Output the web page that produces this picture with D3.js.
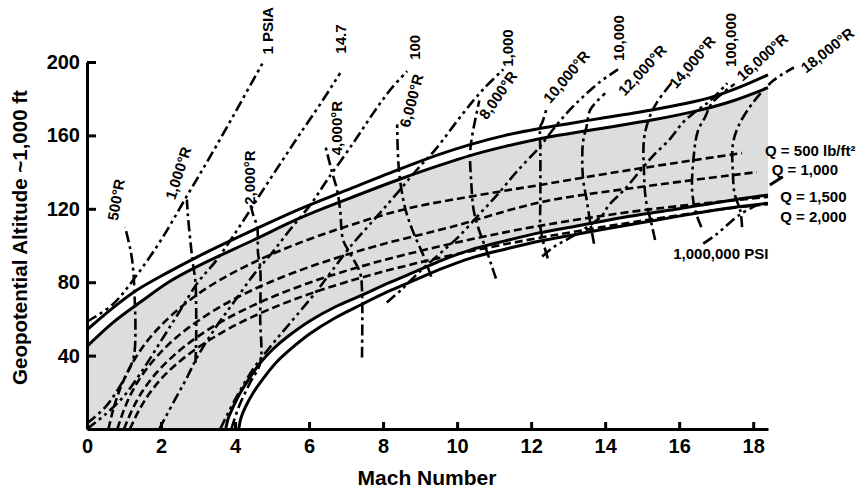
<!DOCTYPE html>
<html>
<head>
<meta charset="utf-8">
<script src="https://cdn.jsdelivr.net/npm/d3@7"></script>
<style>
  body { margin: 0; background: #fff; }
  svg { font-family: "Liberation Sans", Arial, sans-serif; font-weight: bold; }
</style>
</head>
<body>
<svg id="chart" width="857" height="491"></svg>
<script>
// axis ticks
const machTicks = [0, 2, 4, 6, 8, 10, 12, 14, 16, 18];
const altTicks = [40, 80, 120, 160, 200];

// corridor boundaries [mach, altitude kft]
const upperOuter = [[0,54],[0.7,66],[1.35,75.7],[2.2,85.5],[2.97,93.7],[4.5,108.5],[5.76,120],[7,130],[8.5,142],[9.5,149.5],[10.35,155],[11.3,160],[12.3,164],[13.8,169],[15.3,174],[16.2,177.5],[16.9,181],[17.6,186],[18.4,193]];
const upperInner = [[0,45],[0.7,58],[1.5,70],[2.2,80],[2.97,88.5],[4.5,103],[5.76,115],[7,125],[8.5,136.5],[9.5,143.5],[10.35,149],[11.3,154],[12.3,158.5],[13.8,163.5],[15.3,168.5],[16.5,173.5],[17.4,178.5],[18.4,186]];
const lowerInner = [[3.75,0],[3.82,6],[3.95,12],[4.15,20],[4.4,28],[4.7,36.5],[5.05,44],[5.4,50],[6.03,59],[6.7,66.5],[7.43,73],[8.2,80],[8.9,86],[9.6,92],[10.35,97.5],[11.3,102.5],[12.24,107],[13.2,110.5],[14,113.5],[15,117],[16,120],[17.2,124],[18.4,127.5]];
const lowerOuter = [[4.1,0],[4.16,6],[4.28,12],[4.5,20],[4.78,28],[5.1,36],[5.5,43.5],[6.03,52],[6.7,60.5],[7.43,68],[8.2,75.5],[8.9,81.5],[9.6,87.5],[10.35,93],[11.3,98],[12.24,102.5],[13.2,106],[14,109],[15,112.5],[16,116],[17.2,120],[18.4,123]];

// stagnation temperature lines
const t500 = [[0,3],[0.5,12],[0.85,22],[1.1,31],[1.27,40],[1.27,80],[1.22,92],[1.16,99],[1.03,110]];
const t1000 = [[2.93,36],[2.95,50],[2.95,65],[2.93,80],[2.85,92],[2.78,105],[2.72,118],[2.7,125]];
const t2000 = [[3.9,0],[4.1,12],[4.4,25],[4.68,36],[4.68,60],[4.68,88],[4.62,96],[4.6,110],[4.5,116],[4.42,122]];
const t4000 = [[7.43,39],[7.43,76],[7.38,85],[7.1,96],[6.92,103],[6.84,119],[6.76,130],[6.62,140],[6.43,155]];
const t6000 = [[9.3,83],[9.1,94],[8.8,108],[8.6,120],[8.45,137],[8.4,150],[8.38,166]];
const t8000 = [[11.05,82],[10.95,88],[10.8,97],[10.6,108],[10.45,119],[10.38,135],[10.35,150],[10.4,159],[10.6,179]];
const t10000 = [[12.45,93],[12.35,100],[12.25,110],[12.25,125],[12.25,150],[12.25,165],[12.3,167],[12.43,175.5]];
const t12000 = [[13.7,101],[13.6,112],[13.5,125],[13.4,137],[13.4,156],[13.5,165],[13.6,174],[14.0,183]];
const t14000 = [[15.35,103],[15.25,112],[15.1,125],[15.05,140],[15.05,158],[15.2,170],[15.4,178],[15.85,190]];
const t16000 = [[16.6,110],[16.45,118],[16.35,130],[16.4,150],[16.5,162],[16.7,170],[16.9,178],[17.5,188]];
const t18000 = [[17.7,110],[17.65,119],[17.5,128],[17.45,140],[17.45,155],[17.6,165],[18.0,178],[18.55,190],[19.1,197]];

// stagnation pressure lines
const p1 = [[0,58.5],[0.7,68],[1.35,84],[2,103],[2.7,127],[3.4,151],[4.1,176],[4.76,200]];
const p14 = [[0,0],[0.5,8],[1,18],[1.5,32],[2,48],[2.5,64],[3,80],[3.5,92],[4.24,114],[4.78,131],[5.3,147],[5.76,161],[6.3,177],[6.84,194]];
const p100 = [[1.95,0],[2.35,15],[2.7,28],[3,40],[3.5,56],[4,70],[4.5,84],[5,96],[5.5,109],[6.03,122],[6.5,136],[7.2,156],[7.73,172],[8.2,185],[8.65,195]];
const p1000 = [[3.6,0],[4.0,16],[4.5,33],[5.0,46],[5.5,58],[6.2,75],[6.5,83],[7.1,99],[7.84,116],[8.4,129],[8.9,141],[9.4,152],[10.16,172],[10.7,185],[11.25,196]];
const p10000 = [[8.1,69],[8.5,76],[9.0,86],[9.5,95],[10.0,104],[10.6,117],[11.1,128],[11.6,140],[12.24,154],[12.7,166],[13.05,174],[13.4,181],[13.85,189],[14.35,196]];
const p100000 = [[12.3,94],[12.6,99],[13.2,106],[13.9,116],[14.1,122],[14.5,130],[15.0,142],[15.3,149],[15.75,158],[16.1,167],[16.38,172],[16.84,179],[17.3,188.5]];
const p1000000 = [[16.65,101],[17.0,106],[17.65,117],[18.2,123]];
const q1000Leader = [[18.45,133],[18.8,137.5]];

// dynamic pressure lines
const q500 = [[0.58,0],[0.7,10],[0.86,20],[1.07,30],[1.35,40],[1.71,50],[2.18,60],[2.76,70],[3.49,80],[4.42,90],[5.56,100],[6.95,110],[8.63,120],[10.6,127.5],[12.24,133],[14,139],[15.9,145],[17.7,150.4]];
const q1000 = [[0.82,0],[0.99,10],[1.21,20],[1.51,30],[1.91,40],[2.42,50],[3.08,60],[3.9,70],[4.94,80],[6.25,90],[7.86,100],[9.82,110],[12.24,123.5],[15,132],[18.1,140]];
const q1500 = [[1.0,0],[1.21,10],[1.48,20],[1.85,30],[2.34,40],[2.97,50],[3.77,60],[4.78,70],[6.05,80],[7.65,90],[9.63,100],[12.03,110],[14.94,119],[18.4,126.5]];
const q2000 = [[1.16,0],[1.4,10],[1.71,20],[2.13,30],[2.7,40],[3.43,50],[4.35,60],[5.52,70],[6.99,80],[8.83,90],[11.12,100],[13.9,110],[17.25,120],[18.4,122.5]];

// curve labels: text, anchor [mach, alt], angle
const curveLabels = [
  { text: "500°R", at: [0.78, 125], rot: -80 },
  { text: "1,000°R", at: [2.46, 139.5], rot: -72 },
  { text: "2,000°R", at: [4.38, 137], rot: -90 },
  { text: "1 PSIA", at: [4.89, 217], rot: -90 },
  { text: "4,000°R", at: [6.73, 164], rot: -90 },
  { text: "14.7", at: [6.84, 212.5], rot: -90 },
  { text: "6,000°R", at: [8.76, 179], rot: -75 },
  { text: "100", at: [8.86, 208], rot: -90 },
  { text: "8,000°R", at: [11.1, 182], rot: -55 },
  { text: "1,000", at: [11.35, 207.6], rot: -90 },
  { text: "10,000°R", at: [12.95, 192], rot: -50 },
  { text: "10,000", at: [14.35, 213], rot: -90 },
  { text: "12,000°R", at: [15.0, 195.6], rot: -47 },
  { text: "14,000°R", at: [16.35, 200], rot: -50 },
  { text: "100,000", at: [17.4, 212], rot: -90 },
  { text: "16,000°R", at: [18.24, 202.7], rot: -42 },
  { text: "18,000°R", at: [20.0, 206.5], rot: -38 },
];
const sideLabels = [
  { text: "Q = 500 lb/ft²", at: [18.32, 148.6] },
  { text: "Q = 1,000", at: [18.5, 138.4] },
  { text: "Q = 1,500", at: [18.73, 123.7] },
  { text: "Q = 2,000", at: [18.73, 112.8] },
  { text: "1,000,000 PSI", at: [15.84, 92.6] },
];

const svg = d3.select("#chart");
const width = 857, height = 491;
const margin = { top: 62, right: 89, bottom: 62, left: 87 };

const x = d3.scaleLinear().domain([0, 18.4]).range([margin.left, width - margin.right]);
const y = d3.scaleLinear().domain([0, 200]).range([height - margin.bottom, margin.top]);

const line = d3.line()
  .x((d) => x(d[0]))
  .y((d) => y(d[1]))
  .curve(d3.curveCatmullRom.alpha(0.5));

// gray corridor
const corridor = line(upperInner) +
  line([...lowerInner].reverse()).replace(/^M/, "L") +
  `L${x(0)},${y(0)}Z`;
svg.append("path").attr("d", corridor).attr("fill", "#dddddd").attr("stroke", "none");

const styles = {
  q: { dash: "8,4", w: 2.6 },
  temp: { dash: "11,4,3,4", w: 2.6 },
  press: { dash: "11,4,3,4,3,4", w: 2.6 },
  solid: { dash: null, w: 3 },
};

const curves = [
  [q500, "q"], [q1000, "q"], [q1500, "q"], [q2000, "q"],
  [t500, "temp"], [t1000, "temp"], [t2000, "temp"], [t4000, "temp"], [t6000, "temp"],
  [t8000, "temp"], [t10000, "temp"], [t12000, "temp"], [t14000, "temp"], [t16000, "temp"], [t18000, "temp"],
  [p1, "press"], [p14, "press"], [p100, "press"], [p1000, "press"], [p10000, "press"],
  [p100000, "press"], [p1000000, "press"], [q1000Leader, "solid"],
  [upperOuter, "solid"], [upperInner, "solid"], [lowerInner, "solid"], [lowerOuter, "solid"],
];

svg.append("g")
  .selectAll("path")
  .data(curves)
  .join("path")
  .attr("d", (d) => line(d[0]))
  .attr("fill", "none")
  .attr("stroke", "#000")
  .attr("stroke-width", (d) => styles[d[1]].w)
  .attr("stroke-dasharray", (d) => styles[d[1]].dash)
  .attr("stroke-linejoin", "round");

// axes
const gx = svg.append("g")
  .attr("transform", `translate(0,${y(0)})`)
  .call(d3.axisBottom(x).tickValues(machTicks).tickSizeInner(-7).tickSizeOuter(0).tickPadding(10));
const gy = svg.append("g")
  .attr("transform", `translate(${x(0)},0)`)
  .call(d3.axisLeft(y).tickValues(altTicks).tickSizeInner(-9).tickSizeOuter(0).tickPadding(7));

[gx, gy].forEach((g) => {
  g.select(".domain").attr("stroke", "#000").attr("stroke-width", 3);
  g.selectAll(".tick line").attr("stroke", "#000").attr("stroke-width", 3);
  g.selectAll(".tick text")
    .attr("fill", "#000")
    .style("font-size", "20px")
    .style("font-weight", "bold")
    .style("font-family", '"Liberation Sans", Arial, sans-serif');
});

svg.append("text")
  .attr("x", 427)
  .attr("y", 485)
  .attr("text-anchor", "middle")
  .style("font-size", "21px")
  .text("Mach Number");

svg.append("text")
  .attr("transform", `translate(27,${(y(0) + y(200)) / 2 - 8}) rotate(-90)`)
  .attr("text-anchor", "middle")
  .style("font-size", "20.5px")
  .text("Geopotential Altitude ~1,000 ft");

svg.append("g")
  .selectAll("text")
  .data(curveLabels)
  .join("text")
  .attr("transform", (d) => `translate(${x(d.at[0])},${y(d.at[1])}) rotate(${d.rot})`)
  .attr("text-anchor", "middle")
  .attr("dominant-baseline", "central")
  .style("font-size", "15px")
  .text((d) => d.text);

svg.append("g")
  .selectAll("text")
  .data(sideLabels)
  .join("text")
  .attr("x", (d) => x(d.at[0]))
  .attr("y", (d) => y(d.at[1]))
  .style("font-size", "15px")
  .text((d) => d.text);
</script>
</body>
</html>
